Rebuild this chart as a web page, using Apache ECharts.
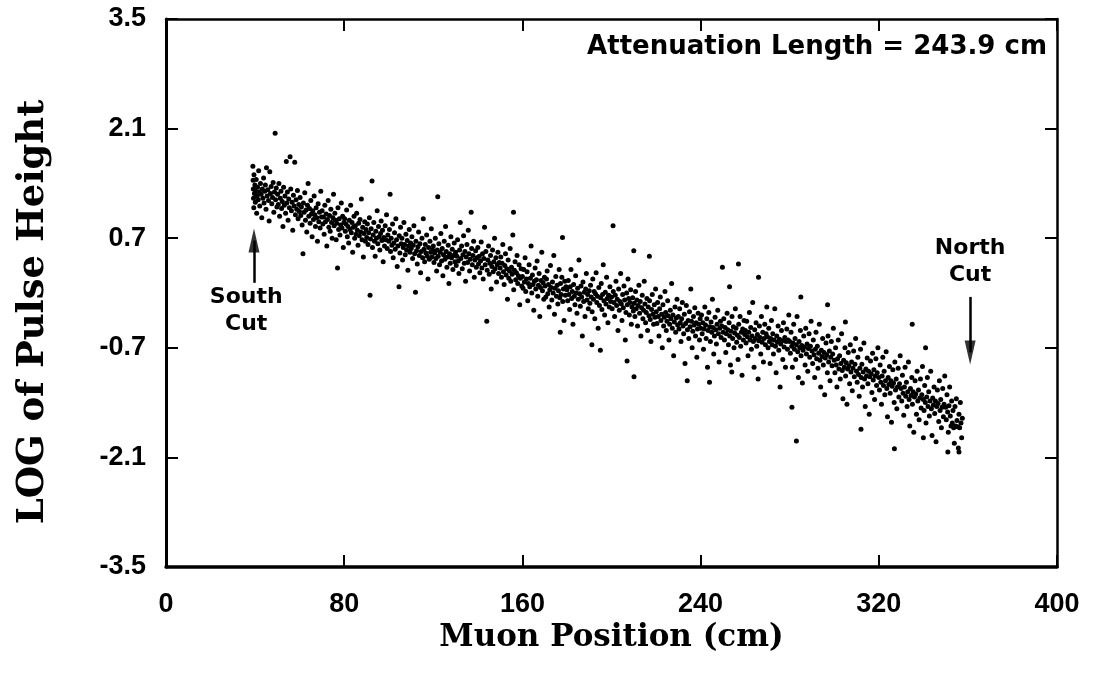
<!DOCTYPE html>
<html>
<head>
<meta charset="utf-8">
<script src="https://cdn.jsdelivr.net/npm/echarts@6/dist/echarts.min.js"></script>
<style>html,body{margin:0;padding:0;background:#fff;}#c{width:1101px;height:681px;}</style>
</head>
<body>
<div id="c"></div>
<script>
const xTicks = [0, 80, 160, 240, 320, 400];
const yTicks = [-3.5, -2.1, -0.7, 0.7, 2.1, 3.5];
const xName = 'Muon Position (cm)';
const yName = 'LOG of Pulse Height';
const noteText = 'Attenuation Length = 243.9 cm';
const southCut = {x: 39.5, from: 0.13, head: 0.67, labelX: 36, labelY: -0.23, text: 'South\nCut'};
const northCut = {x: 361, from: -0.05, head: -0.76, labelX: 361, labelY: 0.40, text: 'North\nCut'};

const seg1 = [[39.0,1.62],[39.1,1.44],[39.2,1.33],[39.3,1.21],[39.4,1.09],[39.5,1.51],[39.7,1.27],[39.9,1.38],[40.1,1.16],[40.3,1.30],[40.5,1.45],[40.7,1.02],[40.9,1.24],[41.1,1.35],[41.4,1.19],[41.6,1.56],[41.9,1.29],[42.1,1.11],[42.4,1.40],[42.7,1.26],[43.0,0.96],[43.2,1.33],[43.5,1.21],[43.8,1.47],[44.0,1.15],[44.3,1.30],[44.6,1.38],[44.9,1.07],[45.1,1.60],[45.4,1.24],[45.7,1.32],[46.0,1.18],[46.3,0.92],[46.6,1.55],[46.9,1.27],[47.2,1.36],[47.5,1.14],[47.8,1.22],[48.1,1.41],[48.4,1.03],[48.7,1.29],[49.0,2.04],[49.2,1.19],[49.5,1.34],[49.8,1.10],
[50.1,1.26],[50.4,1.13],[50.7,1.40],[51.0,0.98],[51.3,1.21],[51.6,1.30],[51.9,1.08],[52.2,1.17],[52.5,0.85],[52.8,1.35],[53.1,1.12],[53.4,1.24],[53.7,1.02],[54.0,1.68],[54.2,1.15],[54.5,1.29],[54.8,0.93],[55.1,1.20],[55.4,1.09],[55.7,1.74],[56.0,1.33],[56.3,1.05],[56.6,1.16],[56.9,0.80],[57.2,1.25],[57.5,1.11],[57.8,1.67],[58.1,1.00],[58.4,1.19],[58.7,1.07],[59.0,1.31],[59.3,0.95],[59.6,1.13],[59.9,1.04],
[60.2,1.22],[60.5,0.99],[60.8,1.10],[61.1,0.87],[61.5,0.50],[61.7,1.15],[62.0,1.03],[62.3,1.28],[62.6,0.93],[62.9,1.06],[63.2,0.78],[63.5,1.12],[63.8,1.40],[64.1,0.98],[64.4,1.08],[64.7,0.89],[65.0,1.18],[65.3,1.01],[65.6,0.72],[65.9,1.05],[66.2,0.94],[66.5,1.24],[66.8,1.00],[67.1,0.85],[67.4,1.09],[67.7,0.96],[68.0,0.66],[68.3,1.14],[68.6,0.91],[68.9,1.03],[69.2,0.83],[69.5,1.30],[69.8,0.97],
[70.1,1.05],[70.4,0.88],[70.7,0.97],[71.0,0.75],[71.3,1.12],[71.6,0.91],[71.9,1.01],[72.2,0.60],[72.5,0.94],[72.8,1.18],[73.1,0.84],[73.4,0.99],[73.7,0.79],[74.0,1.07],[74.3,0.90],[74.6,0.70],[74.9,0.96],[75.2,1.26],[75.5,0.86],[75.8,1.02],[76.1,0.93],[76.4,0.68],[76.7,0.89],[77.0,0.32],[77.2,1.09],[77.5,0.81],[77.8,0.95],[78.1,0.74],[78.4,0.87],[78.7,1.15],[79.0,0.83],[79.3,0.98],[79.6,0.58],[79.9,0.90]];

const seg2 = [[80.2,0.95],[80.5,0.79],[80.8,0.88],[81.1,1.06],[81.4,0.72],[81.7,0.85],[82.0,0.64],[82.3,0.93],[82.6,0.81],[82.9,1.12],[83.2,0.77],[83.5,0.90],[83.8,0.52],[84.1,0.84],[84.4,0.98],[84.7,0.70],[85.0,0.86],[85.3,0.75],[85.6,1.02],[85.9,0.80],[86.2,0.61],[86.5,0.89],[86.8,0.73],[87.1,0.94],[87.4,0.78],[87.7,1.20],[88.0,0.68],[88.3,0.84],[88.6,0.46],[88.9,0.76],[89.2,0.91],[89.5,0.66],[89.8,0.81],
[90.1,0.71],[90.4,0.88],[90.7,0.62],[91.0,0.77],[91.3,0.96],[91.6,-0.03],[91.8,0.69],[92.1,0.82],[92.5,1.43],[92.7,0.58],[93.0,0.74],[93.3,0.90],[93.6,0.66],[93.9,0.47],[94.2,0.79],[94.5,0.70],[94.8,1.05],[95.1,0.63],[95.4,0.85],[95.7,0.72],[96.0,0.55],[96.3,0.76],[96.6,0.92],[96.9,0.67],[97.2,0.80],[97.5,0.40],[97.8,0.71],[98.1,0.60],[98.4,0.86],[98.7,0.68],[99.0,1.00],[99.3,0.57],[99.6,0.74],
[100.0,0.66],[100.3,0.81],[100.6,1.26],[100.8,0.53],[101.1,0.70],[101.4,0.61],[101.7,0.88],[102.0,0.45],[102.3,0.64],[102.6,0.77],[102.9,0.56],[103.2,0.95],[103.5,0.68],[103.8,0.34],[104.1,0.60],[104.6,0.08],[104.7,0.73],[105.0,0.51],[105.3,0.84],[105.6,0.63],[105.9,0.70],[106.2,0.42],[106.5,0.58],[106.8,0.90],[107.1,0.62],[107.4,0.49],[107.7,0.75],[108.0,0.55],[108.3,0.67],[108.6,0.29],[108.9,0.60],[109.2,0.81],[109.5,0.52],[109.8,0.64],
[110.1,0.57],[110.4,0.72],[110.7,0.44],[111.0,0.61],[111.3,0.86],[111.6,0.50],[112.0,0.01],[112.2,0.66],[112.5,0.54],[112.8,0.37],[113.1,0.59],[113.4,0.78],[113.7,0.48],[114.0,0.63],[114.3,0.26],[114.6,0.53],[114.9,0.70],[115.2,0.45],[115.5,0.95],[115.8,0.56],[116.1,0.40],[116.4,0.62],[116.7,0.51],[117.0,0.74],[117.3,0.47],[117.6,0.18],[117.9,0.58],[118.2,0.43],[118.5,0.66],[118.8,0.52],[119.1,0.82],[119.4,0.46],[119.7,0.55]];

const seg3 = [[120.0,0.60],[120.3,0.39],[120.6,0.51],[120.9,0.70],[121.2,0.44],[121.5,0.28],[121.8,0.55],[122.0,1.23],[122.2,0.47],[122.5,0.63],[122.8,0.36],[123.1,0.52],[123.4,0.76],[123.7,0.41],[124.0,0.57],[124.3,0.22],[124.6,0.49],[124.9,0.66],[125.2,0.43],[125.5,0.85],[125.8,0.53],[126.1,0.33],[126.4,0.46],[126.7,0.61],[127.0,0.12],[127.3,0.50],[127.6,0.38],[127.9,0.72],[128.2,0.45],[128.5,0.56],[128.8,0.30],[129.1,0.48],[129.4,0.64],[129.7,0.40],
[130.0,0.52],[130.3,0.35],[130.6,0.47],[130.9,0.68],[131.2,0.41],[131.5,0.25],[131.8,0.55],[132.1,0.90],[132.4,0.44],[132.7,0.60],[133.0,0.31],[133.3,0.49],[133.6,0.73],[133.9,0.38],[134.2,0.53],[134.5,0.15],[134.8,0.46],[135.1,0.62],[135.4,0.39],[135.7,0.80],[136.0,0.50],[136.3,0.28],[136.6,0.43],[137.0,1.03],[137.2,0.57],[137.5,0.36],[137.8,0.48],[138.1,0.66],[138.4,0.20],[138.7,0.42],[139.0,0.54],[139.3,0.33],[139.6,0.45],
[140.0,0.58],[140.3,0.37],[140.6,0.47],[140.9,0.26],[141.2,0.41],[141.5,0.65],[141.8,0.32],[142.1,0.50],[142.4,0.18],[142.7,0.44],[143.0,0.84],[143.3,0.36],[143.6,0.53],[144.0,-0.36],[144.2,0.29],[144.5,0.42],[144.8,0.60],[145.1,0.24],[145.4,0.38],[145.7,0.48],[146.0,0.05],[146.3,0.34],[146.6,0.55],[146.9,0.27],[147.2,0.40],[147.5,0.70],[147.8,0.31],[148.1,0.45],[148.4,0.14],[148.7,0.36],[149.0,0.52],[149.3,0.25],[149.6,0.39],
[150.0,0.32],[150.3,0.46],[150.6,0.20],[150.9,0.38],[151.2,0.62],[151.5,0.27],[151.8,0.11],[152.1,0.35],[152.4,0.50],[152.7,0.23],[153.0,0.31],[153.3,-0.08],[153.6,0.42],[153.9,0.19],[154.2,0.28],[154.5,0.57],[154.8,0.15],[155.1,0.33],[155.4,0.24],[155.7,0.74],[156.0,1.03],[156.1,0.04],[156.4,0.29],[156.7,0.40],[157.0,0.17],[157.3,0.26],[157.6,0.48],[157.9,0.12],[158.2,0.22],[158.5,0.36],[158.8,-0.15],[159.1,0.19],[159.4,0.31],[159.7,0.09]];

const seg4 = [[160.0,0.21],[160.3,0.06],[160.6,0.30],[160.9,0.14],[161.2,0.45],[161.5,0.02],[161.8,0.18],[162.1,0.27],[162.4,-0.10],[162.7,0.12],[163.0,0.36],[163.3,0.08],[163.6,0.19],[163.9,0.60],[164.2,0.00],[164.5,0.23],[164.8,0.11],[165.1,-0.22],[165.4,0.15],[165.7,0.32],[166.0,0.05],[166.3,0.17],[166.6,0.41],[166.9,-0.04],[167.2,0.10],[167.5,0.25],[167.8,-0.30],[168.1,0.07],[168.4,0.16],[168.7,0.52],[169.0,0.03],[169.3,0.13],[169.6,-0.08],[169.9,0.20],
[170.2,0.09],[170.5,-0.05],[170.8,0.18],[171.1,0.28],[171.4,-0.01],[171.7,0.11],[172.0,-0.18],[172.3,0.04],[172.6,0.35],[172.9,0.07],[173.2,-0.09],[173.5,0.14],[173.8,0.00],[174.1,0.48],[174.4,-0.27],[174.7,0.06],[175.0,0.21],[175.3,-0.04],[175.6,0.10],[175.9,-0.14],[176.2,0.03],[176.5,0.30],[176.8,-0.06],[177.0,-0.50],[177.1,0.12],[177.4,-0.02],[177.7,0.20],[178.0,0.71],[178.1,-0.11],[178.4,0.05],[178.7,-0.35],[179.0,0.15],[179.3,-0.03],[179.6,0.08],
[180.0,0.04],[180.3,-0.10],[180.6,0.16],[180.9,-0.02],[181.2,-0.21],[181.5,0.08],[181.8,0.30],[182.1,-0.07],[182.4,0.02],[182.7,-0.40],[183.0,0.11],[183.3,-0.04],[183.6,-0.15],[183.9,0.22],[184.2,0.00],[184.5,-0.26],[184.8,0.06],[185.1,-0.08],[185.4,0.42],[185.7,-0.01],[186.0,-0.17],[186.3,0.09],[186.6,-0.05],[186.9,-0.55],[187.2,0.14],[187.5,-0.11],[187.8,0.01],[188.1,-0.30],[188.4,0.05],[188.7,0.25],[189.0,-0.09],[189.3,-0.02],[189.6,-0.20],
[190.0,0.03],[190.3,-0.13],[190.6,0.10],[190.9,-0.05],[191.2,-0.66],[191.3,-0.24],[191.6,0.18],[191.9,-0.08],[192.2,0.02],[192.5,-0.33],[192.8,-0.01],[193.1,0.26],[193.4,-0.12],[193.7,-0.04],[194.0,-0.45],[194.3,0.07],[194.6,-0.16],[195.0,-0.73],[195.1,-0.06],[195.4,0.12],[195.7,-0.21],[196.0,-0.02],[196.3,0.36],[196.6,-0.10],[196.9,-0.28],[197.2,0.01],[197.5,-0.14],[197.8,0.20],[198.1,-0.07],[198.4,-0.38],[198.7,-0.03],[199.0,-0.18],[199.3,0.08],[199.6,-0.11]];

const seg5 = [[200.0,-0.05],[200.3,-0.20],[200.7,0.86],[200.8,0.02],[201.1,-0.12],[201.4,-0.30],[201.7,-0.03],[202.0,0.15],[202.3,-0.16],[202.6,-0.08],[202.9,-0.48],[203.2,0.05],[203.5,-0.22],[203.8,-0.11],[204.1,0.25],[204.4,-0.14],[204.7,-0.35],[205.0,-0.02],[205.3,-0.19],[205.6,0.09],[205.9,-0.09],[206.2,-0.60],[206.5,-0.25],[206.8,0.00],[207.0,-0.87],[207.1,-0.15],[207.4,0.18],[207.7,-0.07],[208.0,-0.28],[208.3,-0.12],[208.6,0.04],[208.9,-0.40],[209.2,-0.18],[209.5,-0.06],[209.8,-0.23],
[210.0,0.54],[210.1,-1.07],[210.2,-0.13],[210.5,-0.30],[210.8,0.02],[211.1,-0.20],[211.4,-0.09],[211.7,-0.42],[212.0,-0.16],[212.3,0.10],[212.6,-0.26],[212.9,-0.11],[213.2,-0.55],[213.5,-0.19],[213.8,-0.03],[214.1,-0.33],[214.4,-0.22],[214.7,0.15],[215.0,-0.14],[215.3,-0.38],[215.6,-0.25],[215.9,-0.07],[216.2,-0.48],[216.5,-0.18],[216.8,-0.29],[217.0,0.47],[217.1,-0.10],[217.4,-0.34],[217.7,-0.62],[218.0,-0.21],[218.3,-0.02],[218.6,-0.27],[218.9,-0.40],[219.2,-0.15],[219.5,-0.31],[219.8,0.05],
[220.1,-0.24],[220.4,-0.39],[220.7,-0.12],[221.0,-0.30],[221.3,-0.55],[221.6,-0.20],[221.9,-0.05],[222.2,-0.35],[222.5,-0.27],[222.8,-0.70],[223.1,-0.15],[223.4,-0.42],[223.7,-0.31],[224.0,0.02],[224.3,-0.25],[224.6,-0.48],[224.9,-0.36],[225.2,-0.10],[225.5,-0.29],[225.8,-0.60],[226.1,-0.40],[226.4,-0.22],[226.7,-0.33],[227.0,0.12],[227.3,-0.45],[227.6,-0.28],[227.9,-0.80],[228.2,-0.37],[228.5,-0.18],[228.8,-0.50],[229.1,-0.32],[229.4,-0.08],[229.7,-0.41],
[230.0,-0.30],[230.3,-0.46],[230.6,-0.20],[230.9,-0.38],[231.2,-0.62],[231.5,-0.33],[231.8,-0.12],[232.1,-0.42],[232.4,-0.52],[232.7,-0.27],[233.0,-0.90],[233.3,-0.39],[233.6,-0.16],[234.0,-1.12],[234.1,-0.47],[234.4,-0.35],[234.7,-0.58],[235.0,-0.24],[235.3,-0.43],[235.6,0.05],[235.9,-0.36],[236.2,-0.70],[236.5,-0.49],[236.8,-0.30],[237.1,-0.41],[237.4,-0.19],[237.7,-0.55],[238.0,-0.38],[238.3,-0.82],[238.6,-0.46],[238.9,-0.26],[239.2,-0.40],[239.5,-0.60],[239.8,-0.33]];

const seg6 = [[240.1,-0.45],[240.4,-0.28],[240.7,-0.52],[241.0,-0.38],[241.3,-0.72],[241.6,-0.46],[241.9,-0.18],[242.2,-0.41],[242.5,-0.58],[242.8,-0.33],[243.1,-0.95],[243.4,-0.48],[243.7,-0.25],[244.0,-1.14],[244.1,-0.43],[244.4,-0.62],[244.7,-0.37],[245.0,-0.50],[245.3,-0.08],[245.6,-0.44],[245.9,-0.78],[246.2,-0.55],[246.5,-0.31],[246.8,-0.47],[247.1,-0.65],[247.4,-0.40],[247.7,-0.22],[248.0,-0.52],[248.3,-0.88],[248.6,-0.45],[248.9,-0.36],[249.2,-0.57],[249.5,-0.42],[249.8,0.33],
[250.1,-0.50],[250.4,-0.33],[250.7,-0.60],[251.0,-0.44],[251.3,-0.76],[251.6,-0.52],[251.9,-0.26],[252.2,-0.47],[252.5,-0.66],[252.8,-0.38],[253.0,0.08],[253.1,-0.55],[253.4,-0.92],[253.7,-0.49],[254.0,-1.01],[254.1,-0.30],[254.4,-0.58],[254.7,-0.43],[255.0,-0.70],[255.3,-0.51],[255.6,-0.20],[255.9,-0.45],[256.2,-0.63],[256.5,-0.54],[256.8,-0.85],[257.0,0.37],[257.1,-0.40],[257.4,-0.57],[257.7,-0.30],[258.0,-0.68],[258.3,-0.50],[258.6,-1.05],[258.9,-0.46],[259.2,-0.60],[259.5,-0.35],[259.8,-0.53],
[260.1,-0.48],[260.4,-0.64],[260.7,-0.36],[261.0,-0.56],[261.3,-0.80],[261.6,-0.50],[261.9,-0.25],[262.2,-0.60],[262.5,-0.44],[262.8,-0.72],[263.1,-0.55],[263.4,-0.12],[263.7,-0.62],[264.0,-0.95],[264.3,-0.47],[264.6,-0.58],[264.9,-0.38],[265.2,-0.68],[265.5,-0.53],[265.8,-1.10],[266.0,0.20],[266.1,-0.61],[266.4,-0.42],[266.7,-0.57],[267.0,-0.78],[267.3,-0.30],[267.6,-0.63],[267.9,-0.50],[268.2,-0.88],[268.5,-0.58],[268.8,-0.40],[269.1,-0.66],[269.4,-0.52],[269.7,-0.18],
[270.0,-0.56],[270.3,-0.70],[270.6,-0.45],[270.9,-0.62],[271.2,-0.90],[271.5,-0.58],[271.8,-0.35],[272.1,-0.66],[272.4,-0.52],[272.7,-0.78],[273.0,-0.60],[273.3,-0.20],[273.6,-0.68],[273.9,-1.02],[274.2,-0.55],[274.5,-0.63],[274.8,-0.42],[275.1,-0.73],[275.4,-0.59],[275.7,-1.20],[276.0,-0.65],[276.3,-0.48],[276.6,-0.61],[276.9,-0.85],[277.2,-0.38],[277.5,-0.69],[277.8,-0.57],[278.1,-0.95],[278.4,-0.62],[278.7,-0.46],[279.0,-0.72],[279.3,-0.60],[279.6,-0.28]];

const seg7 = [[280.0,-0.62],[280.3,-0.77],[280.6,-0.50],[280.9,-0.68],[281.0,-1.46],[281.2,-0.95],[281.5,-0.64],[281.8,-0.40],[282.1,-0.72],[282.4,-0.58],[282.7,-0.85],[283.0,-0.66],[283.0,-1.89],[283.3,-0.30],[283.6,-0.75],[283.9,-1.08],[284.2,-0.62],[284.5,-0.70],[284.8,-0.48],[285.0,-0.05],[285.1,-0.80],[285.4,-0.67],[285.7,-1.15],[286.0,-0.73],[286.3,-0.55],[286.6,-0.69],[286.9,-0.92],[287.2,-0.45],[287.5,-0.78],[287.8,-0.65],[288.1,-1.00],[288.4,-0.71],[288.7,-0.52],[289.0,-0.82],[289.3,-0.68],[289.6,-0.36],
[290.0,-0.74],[290.3,-0.90],[290.6,-0.60],[290.9,-0.79],[291.2,-1.08],[291.5,-0.72],[291.8,-0.50],[292.1,-0.84],[292.4,-0.68],[292.7,-0.96],[293.0,-0.77],[293.3,-0.40],[293.6,-0.86],[293.9,-1.20],[294.2,-0.73],[294.5,-0.81],[294.8,-0.58],[295.1,-0.92],[295.4,-0.76],[295.7,-1.30],[296.0,-0.83],[296.3,-0.64],[296.6,-0.79],[296.9,-1.02],[297.0,-0.15],[297.2,-0.55],[297.5,-0.88],[297.8,-0.74],[298.1,-1.12],[298.4,-0.82],[298.7,-0.62],[299.0,-0.93],[299.3,-0.78],[299.6,-0.45],
[300.0,-0.86],[300.3,-1.02],[300.6,-0.70],[300.9,-0.92],[301.2,-1.20],[301.5,-0.84],[301.8,-0.60],[302.1,-0.97],[302.4,-0.80],[302.7,-1.10],[303.0,-0.90],[303.3,-0.52],[303.6,-0.99],[303.9,-1.35],[304.2,-0.86],[304.5,-0.95],[304.8,-0.70],[305.0,-0.37],[305.1,-1.06],[305.4,-0.89],[305.7,-1.42],[306.0,-0.97],[306.3,-0.76],[306.6,-0.93],[306.9,-1.16],[307.2,-0.66],[307.5,-1.01],[307.8,-0.88],[308.1,-1.25],[308.4,-0.96],[308.7,-0.74],[309.0,-1.07],[309.3,-0.91],[309.6,-0.58],
[310.0,-1.00],[310.3,-1.14],[310.6,-0.82],[310.9,-1.04],[311.2,-1.32],[311.5,-0.96],[311.8,-0.72],[312.0,-1.74],[312.1,-1.08],[312.4,-0.91],[312.7,-1.20],[313.0,-1.01],[313.3,-0.64],[313.6,-1.10],[313.9,-1.45],[314.2,-0.97],[314.5,-1.06],[314.8,-0.83],[315.1,-1.16],[315.4,-1.00],[315.7,-1.55],[316.0,-1.07],[316.3,-0.87],[316.6,-1.03],[316.9,-1.27],[317.2,-0.77],[317.5,-1.11],[317.8,-0.98],[318.1,-1.36],[318.4,-1.06],[318.7,-0.84],[319.0,-1.18],[319.3,-1.02],[319.6,-0.70]];

const seg8 = [[320.0,-1.08],[320.3,-1.24],[320.6,-0.92],[320.9,-1.14],[321.2,-1.42],[321.5,-1.06],[321.8,-0.82],[322.1,-1.18],[322.4,-1.00],[322.7,-1.30],[323.0,-1.12],[323.3,-0.75],[323.6,-1.22],[323.9,-1.58],[324.2,-1.08],[324.5,-1.17],[324.8,-0.94],[325.1,-1.28],[325.4,-1.12],[325.7,-1.65],[326.0,-1.19],[326.3,-0.98],[326.6,-1.15],[326.9,-1.40],[327.0,-1.99],[327.2,-0.88],[327.5,-1.24],[327.8,-1.10],[328.1,-1.48],[328.4,-1.20],[328.7,-0.96],[329.0,-1.33],[329.3,-1.16],[329.6,-0.80],
[330.0,-1.22],[330.3,-1.38],[330.6,-1.05],[330.9,-1.28],[331.2,-1.56],[331.5,-1.20],[331.8,-0.95],[332.1,-1.32],[332.4,-1.14],[332.7,-1.45],[333.0,-1.26],[333.3,-0.88],[333.6,-1.36],[333.9,-1.70],[334.2,-1.22],[334.5,-1.31],[334.8,-1.08],[335.0,-0.40],[335.1,-1.42],[335.4,-1.26],[335.7,-1.78],[336.0,-1.33],[336.3,-1.12],[336.6,-1.29],[336.9,-1.55],[337.2,-1.00],[337.5,-1.38],[337.8,-1.24],[338.1,-1.62],[338.4,-1.34],[338.7,-1.10],[339.0,-1.47],[339.3,-1.30],[339.6,-0.94],
[340.0,-1.36],[340.0,-1.85],[340.3,-1.50],[340.6,-1.18],[340.9,-1.40],[341.0,-0.70],[341.2,-1.66],[341.5,-1.33],[341.8,-1.08],[342.1,-1.45],[342.4,-1.26],[342.7,-1.57],[343.0,-1.38],[343.3,-1.00],[343.6,-1.48],[343.9,-1.82],[344.2,-1.34],[344.5,-1.43],[344.8,-1.20],[345.1,-1.54],[345.4,-1.38],[345.7,-1.90],[346.0,-1.45],[346.3,-1.24],[346.6,-1.41],[346.9,-1.64],[347.2,-1.12],[347.5,-1.50],[347.8,-1.36],[348.1,-1.72],[348.4,-1.46],[348.7,-1.22],[349.0,-1.58],[349.3,-1.42],[349.6,-1.06],
[350.0,-1.46],[350.3,-1.62],[350.6,-1.30],[350.9,-1.52],[351.0,-2.03],[351.2,-1.78],[351.5,-1.44],[351.8,-1.20],[352.1,-1.57],[352.4,-1.70],[352.7,-1.38],[353.0,-1.66],[353.3,-1.50],[353.6,-1.72],[353.9,-1.92],[354.2,-1.45],[354.5,-1.70],[354.8,-1.35],[355.1,-1.63],[355.4,-1.71],[355.7,-1.98],[356.0,-2.03],[356.0,-1.55],[356.3,-1.72],[356.6,-1.40],[356.9,-1.66],[357.2,-1.85],[357.5,-1.60]];

const points = [].concat(seg1, seg2, seg3, seg4, seg5, seg6, seg7, seg8);

const chart = echarts.init(document.getElementById('c'), null, {renderer: 'canvas'});
const tickFont = {fontFamily: 'Liberation Sans', fontWeight: 'bold', fontSize: 27, color: '#000'};
const xTitleFont = {fontFamily: 'DejaVu Serif', fontWeight: 'bold', fontSize: 31, color: '#000'};
const yTitleFont = {fontFamily: 'DejaVu Serif', fontWeight: 'bold', fontSize: 37, color: '#000', padding: [0, 38, 0, 0]};
const tickStyle = {color: '#000', width: 2};

chart.setOption({
  animation: false,
  backgroundColor: '#fff',
  grid: {left: 166, right: 44, top: 19, bottom: 114},
  xAxis: [
    {type: 'value', position: 'bottom', min: xTicks[0], max: xTicks[xTicks.length - 1],
     axisLine: {onZero: false, lineStyle: {color: '#000', width: 3.5}},
     axisTick: {inside: true, length: 12, lineStyle: tickStyle, customValues: xTicks},
     axisLabel: Object.assign({margin: 24, customValues: xTicks}, tickFont),
     splitLine: {show: false},
     name: xName, nameLocation: 'middle', nameGap: 53, nameTextStyle: xTitleFont},
    {type: 'value', position: 'top', min: xTicks[0], max: xTicks[xTicks.length - 1],
     axisLine: {onZero: false, lineStyle: {color: '#000', width: 2.5}},
     axisTick: {inside: true, length: 12, lineStyle: tickStyle, customValues: xTicks},
     axisLabel: {show: false}, splitLine: {show: false}}
  ],
  yAxis: [
    {type: 'value', position: 'left', min: yTicks[0], max: yTicks[yTicks.length - 1],
     axisLine: {onZero: false, lineStyle: {color: '#000', width: 3}},
     axisTick: {inside: true, length: 12, lineStyle: tickStyle, customValues: yTicks},
     axisLabel: Object.assign({margin: 20, customValues: yTicks, formatter: v => v.toFixed(1)}, tickFont),
     splitLine: {show: false},
     name: yName, nameLocation: 'middle', nameGap: 114, nameTextStyle: yTitleFont},
    {type: 'value', position: 'right', min: yTicks[0], max: yTicks[yTicks.length - 1],
     axisLine: {onZero: false, lineStyle: {color: '#000', width: 2.5}},
     axisTick: {inside: true, length: 12, lineStyle: tickStyle, customValues: yTicks},
     axisLabel: {show: false}, splitLine: {show: false}}
  ],
  graphic: [
    {type: 'text', right: 54, top: 34, style: {text: noteText, font: 'bold 26px "DejaVu Sans"', fill: '#000'}}
  ],
  series: [{
    type: 'scatter',
    xAxisIndex: 0, yAxisIndex: 0,
    data: points,
    symbol: 'circle',
    symbolSize: 5,
    itemStyle: {color: '#000', opacity: 1},
    silent: true,
    markLine: {
      silent: true,
      symbol: ['none', 'none'],
      label: {show: false},
      lineStyle: {color: '#000', width: 2.5, type: 'solid'},
      data: [
        [{coord: [southCut.x, southCut.from]}, {coord: [southCut.x, southCut.head]}],
        [{coord: [northCut.x, northCut.from]}, {coord: [northCut.x, northCut.head]}]
      ]
    },
    markPoint: {
      silent: true,
      symbol: 'circle', symbolSize: 0,
      label: {show: true, position: 'inside', color: '#000', fontFamily: 'DejaVu Sans', fontWeight: 'bold', fontSize: 22, lineHeight: 27, align: 'center', verticalAlign: 'middle', formatter: p => p.name},
      data: [
        {name: southCut.text, coord: [southCut.labelX, southCut.labelY]},
        {name: northCut.text, coord: [northCut.labelX, northCut.labelY]}
      ]
    }
  }, {
    type: 'scatter',
    silent: true,
    symbol: 'triangle',
    symbolSize: [11, 24],
    itemStyle: {color: '#000'},
    data: [
      {value: [southCut.x, southCut.head], symbolRotate: 0},
      {value: [northCut.x, northCut.head], symbolRotate: 180}
    ]
  }]
});
</script>
</body>
</html>
